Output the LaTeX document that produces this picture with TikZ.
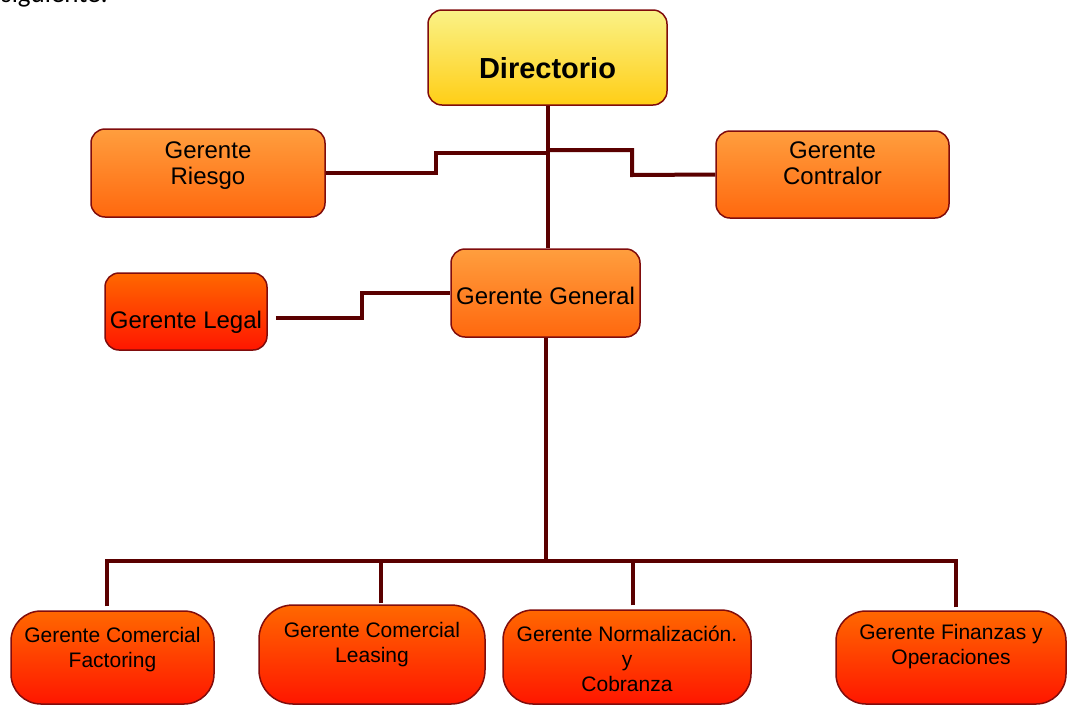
\documentclass[tikz,border=0pt]{standalone}
\usepackage{fontspec}
\setmainfont{Liberation Sans}
\newfontfamily\textofont{Carlito}

\definecolor{marron}{RGB}{90,0,0}
\definecolor{borde}{RGB}{128,12,12}
\definecolor{amarA}{RGB}{250,242,135}
\definecolor{amarB}{RGB}{255,206,22}
\definecolor{narA}{RGB}{255,158,62}
\definecolor{narB}{RGB}{255,104,14}
\definecolor{rojA}{RGB}{255,104,0}
\definecolor{rojB}{RGB}{255,22,0}

\begin{document}
\begin{tikzpicture}[x=1pt,y=-1pt]
	\tikzstyle{caja}=[draw=borde,line width=1.5pt,rounded corners=14pt,align=center,inner sep=0pt,font=\fontsize{24}{26}\selectfont]
	\tikzstyle{amarilla}=[caja,top color=amarA,bottom color=amarB]
	\tikzstyle{naranja}=[caja,top color=narA,bottom color=narB]
	\tikzstyle{roja}=[caja,top color=rojA,bottom color=rojB]
	\tikzstyle{baja}=[roja,rounded corners=30pt,font=\fontsize{21}{25}\selectfont]
	\tikzstyle{linea}=[draw=marron,line width=4pt]

	\useasboundingbox (0,0) rectangle (1068,705);

	\node[anchor=base west,inner sep=0pt,font=\textofont\fontsize{27}{30}\selectfont] (s) at (1,2) {siguiente:};

	\node[amarilla,minimum width=239pt,minimum height=95pt,text height=48pt,text depth=7pt,font=\fontsize{29}{32}\selectfont\bfseries] (D) at (547.5,57.5) {Directorio};
	\node[naranja,minimum width=234pt,minimum height=88pt,text height=28pt,text depth=6pt] (R) at (208,173) {Gerente\\Riesgo};
	\node[naranja,minimum width=233pt,minimum height=87pt,text height=25pt,text depth=6pt] (C) at (832.5,174.5) {Gerente\\Contralor};
	\node[naranja,minimum width=189pt,minimum height=88pt,text height=28pt,text depth=6pt] (G) at (545.5,293) {Gerente General};
	\node[roja,minimum width=162pt,minimum height=77pt,text height=39pt,text depth=6pt] (L) at (186,311.5) {Gerente Legal};

	\node[baja,minimum width=203pt,minimum height=93pt,text height=25pt,text depth=6pt] (F1) at (112.5,657.5) {Gerente Comercial\\Factoring};
	\node[baja,minimum width=226pt,minimum height=99pt,text height=21pt,text depth=6pt,rounded corners=34pt] (F2) at (372,654.5) {Gerente Comercial\\Leasing};
	\node[baja,minimum width=248pt,minimum height=94pt,text height=74pt,text depth=6pt] (F3) at (627,657) {Gerente Normalización.\\y\\Cobranza};
	\node[baja,minimum width=230pt,minimum height=93pt,text height=19pt,text depth=6pt] (F4) at (951,657.5) {Gerente Finanzas y\\Operaciones};

	% uniones
	\coordinate (j1) at (D.south |- 0,153);
	\coordinate (j2) at (D.south |- 0,150);
	\coordinate (b) at (G.south |- 0,561);

	\draw[linea] (D.south) -- (D.south |- G.north);
	\draw[linea] (R.east) -| (436,153) -- (j1);
	\draw[linea] (j2) -| (632,175) -- (C.west);
	\draw[linea] ([xshift=8pt,yshift=-6pt]L.east) -| (362,293) -- (G.west);

	\draw[linea] (G.south) -- (b);
	\draw[linea] ([xshift=-5.5pt,yshift=4pt]F1.north) |- (b);
	\draw[linea] ([xshift=9pt,yshift=1pt]F2.north) |- (b);
	\draw[linea] ([xshift=6pt,yshift=4pt]F3.north) |- (b);
	\draw[linea] ([xshift=5pt,yshift=3pt]F4.north) |- (b);
\end{tikzpicture}
\end{document}
